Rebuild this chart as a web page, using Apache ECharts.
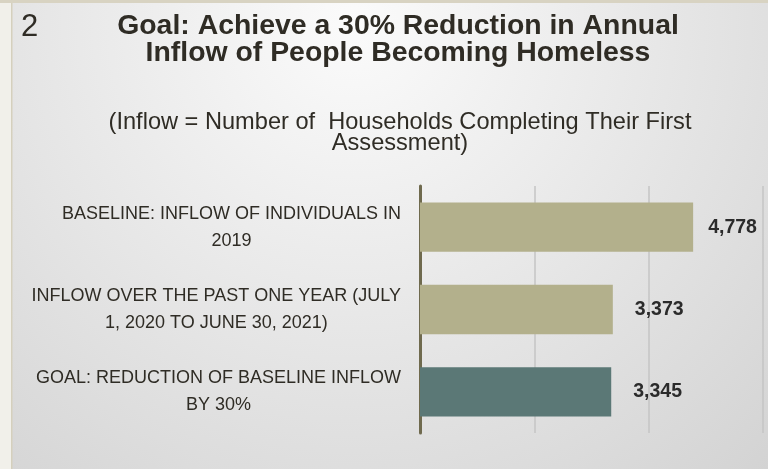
<!DOCTYPE html>
<html>
<head>
<meta charset="utf-8">
<title>Goal: Achieve a 30% Reduction in Annual Inflow of People Becoming Homeless</title>
<script src="https://cdn.jsdelivr.net/npm/echarts@6/dist/echarts.min.js"></script>
<style>
  html, body { margin: 0; padding: 0; background: #ffffff; }
  #chart { width: 768px; height: 469px; }
</style>
</head>
<body>
<div id="chart"></div>
<script>
// Categories (top to bottom) and inflow counts
const categories = [
  'BASELINE: INFLOW OF INDIVIDUALS IN\n2019',
  'INFLOW OVER THE PAST ONE YEAR (JULY\n1, 2020 TO JUNE 30, 2021)',
  'GOAL: REDUCTION OF BASELINE INFLOW\nBY 30%'
];
const inflowValues = [4778, 3373, 3345];

// Value axis range
const axisMin = 0;
const axisMax = 6000;
const axisStep = 2000;

const slideNumber = '2';
const titleText = 'Goal: Achieve a 30% Reduction in Annual\nInflow of People Becoming Homeless';
const subtitleText = '(Inflow = Number of  Households Completing Their First\nAssessment)';

const TAN = '#b3b08c';
const TEAL = '#5b7876';
const INK = '#2f2c25';
const FONT = '"Liberation Sans", Arial, sans-serif';

const barFills = [TAN, TAN, TEAL];
const labelGaps = [15, 22, 22];

const chart = echarts.init(document.getElementById('chart'), null, { renderer: 'canvas' });

const option = {
  animation: false,
  backgroundColor: {
    type: 'radial',
    x: 0.46, y: 0.05, r: 1.3,
    colorStops: [
      { offset: 0, color: '#fbfbfb' },
      { offset: 1, color: '#d3d3d3' }
    ]
  },
  graphic: [
    { type: 'rect', shape: { x: 0, y: 0, width: 11, height: 469 }, style: { fill: '#f1f0ea' }, silent: true },
    { type: 'rect', shape: { x: 11, y: 0, width: 1.5, height: 469 }, style: { fill: '#d5d0bd' }, silent: true },
    { type: 'rect', shape: { x: 0, y: 0, width: 768, height: 3 }, style: { fill: '#d8d3c2' }, silent: true },
    {
      type: 'text', silent: true,
      style: {
        text: slideNumber, x: 21, y: 27,
        textAlign: 'left', textVerticalAlign: 'middle',
        font: '31px ' + FONT, fill: INK
      }
    },
    {
      type: 'text', silent: true,
      style: {
        text: titleText, x: 398, y: 40,
        textAlign: 'center', textVerticalAlign: 'middle',
        font: 'bold 28.4px ' + FONT, lineHeight: 27, fill: INK
      }
    },
    {
      type: 'text', silent: true,
      style: {
        text: subtitleText, x: 400, y: 133,
        textAlign: 'center', textVerticalAlign: 'middle',
        font: '23.6px ' + FONT, lineHeight: 21, fill: INK
      }
    }
  ],
  grid: { left: 420, right: 5, top: 186, bottom: 36 },
  xAxis: {
    type: 'value',
    min: axisMin, max: axisMax, interval: axisStep,
    axisLine: { show: false },
    axisTick: { show: false },
    axisLabel: { show: false },
    splitLine: { show: true, lineStyle: { color: '#c4c4c4', width: 1.5 } }
  },
  yAxis: {
    type: 'category',
    data: categories,
    inverse: true,
    axisLine: { show: true, lineStyle: { color: '#6f6a4e', width: 3 } },
    axisTick: { show: false },
    splitLine: { show: false },
    axisLabel: {
      margin: 19,
      interval: 0,
      hideOverlap: false,
      color: INK,
      fontFamily: FONT,
      fontSize: 18,
      lineHeight: 27,
      formatter: function (value) {
        return value.split('\n').map(function (line) { return '{c|' + line + '}'; }).join('\n');
      },
      rich: {
        c: { align: 'center', color: INK, fontFamily: FONT, fontSize: 18, lineHeight: 27 }
      }
    }
  },
  series: [{
    type: 'bar',
    barCategoryGap: '40%',
    data: inflowValues.map(function (v, i) {
      return {
        value: v,
        itemStyle: { color: barFills[i] },
        label: { distance: labelGaps[i] }
      };
    }),
    label: {
      show: true,
      position: 'right',
      color: '#2b2b2b',
      fontFamily: FONT,
      fontWeight: 'bold',
      fontSize: 19.5,
      formatter: function (p) { return p.value.toLocaleString('en-US'); }
    }
  }]
};

chart.setOption(option);
</script>
</body>
</html>
